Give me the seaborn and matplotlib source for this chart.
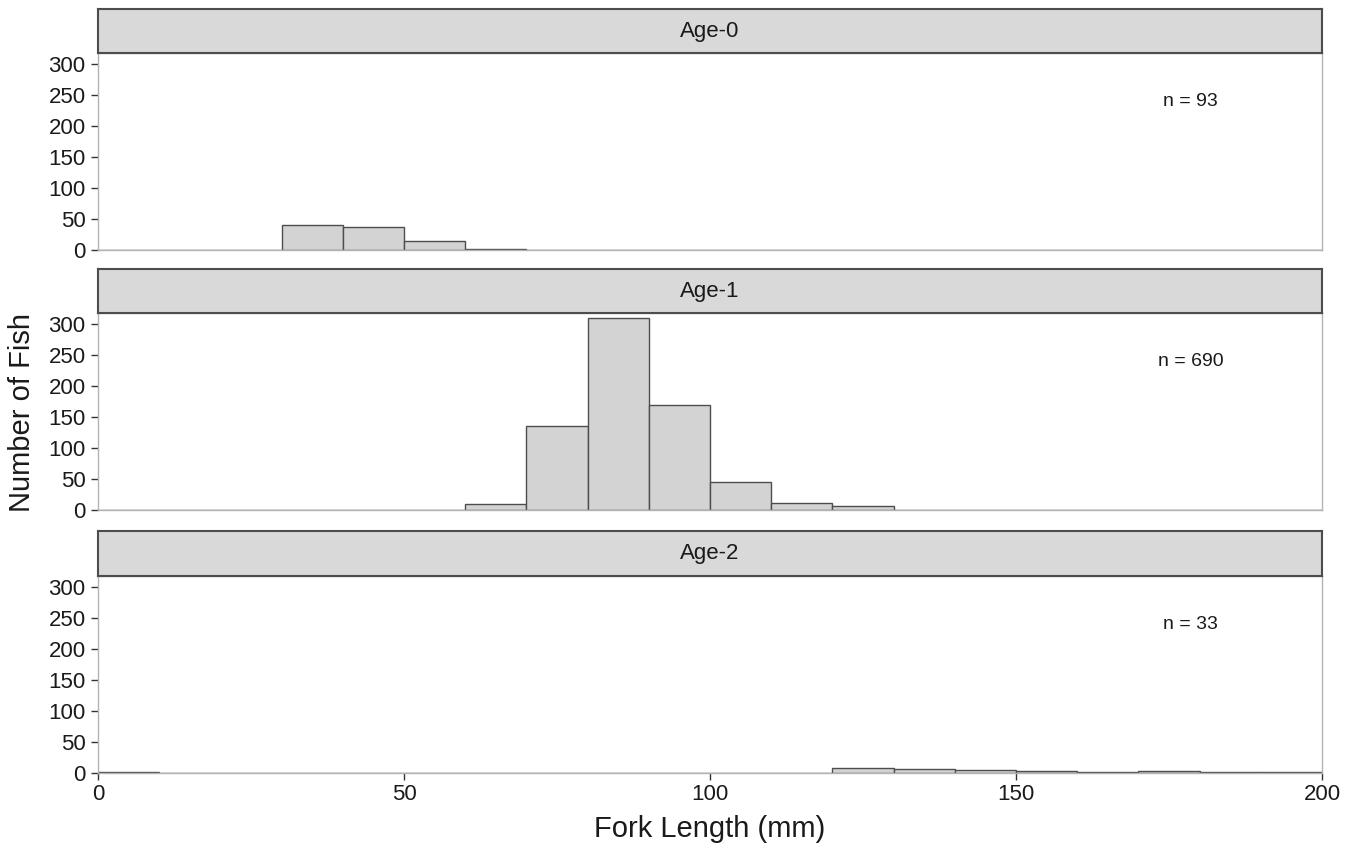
import numpy as np
import pandas as pd
import seaborn as sns
import matplotlib.pyplot as plt

sns.set_style("white")
plt.rcParams['font.family'] = ['Liberation Sans', 'DejaVu Sans']

# histogram counts (10 mm bins)
bin_edges = np.arange(0, 210, 10)
ages = ["Age-0", "Age-1", "Age-2"]
age0_counts = [0, 0, 0, 40, 37, 15, 1, 0, 0, 0, 0, 0, 0, 0, 0, 0, 0, 0, 0, 0]
age1_counts = [0, 0, 0, 0, 0, 0, 9, 136, 310, 170, 46, 12, 7, 0, 0, 0, 0, 0, 0, 0]
age2_counts = [1, 0, 0, 0, 0, 0, 0, 0, 0, 0, 0, 0, 8, 7, 5, 4, 2, 3, 1, 2]
n_labels = ["n = 93", "n = 690", "n = 33"]

centers = bin_edges[:-1] + 5
frames = []
for age, counts in zip(ages, [age0_counts, age1_counts, age2_counts]):
    frames.append(pd.DataFrame({"age": age, "fl": centers, "count": counts}))
df = pd.concat(frames)

fig = plt.figure(figsize=(13.55, 8.46), dpi=100)
W, H = 1355, 846
left, right = 98, 1322
# (strip top, plot top, plot bottom) in pixels
panels = [(9, 53, 250), (269, 313, 510), (531, 576, 773)]

for i, (age, (s_top, p_top, p_bot)) in enumerate(zip(ages, panels)):
    ax = fig.add_axes([left / W, 1 - p_bot / H, (right - left) / W, (p_bot - p_top) / H])
    sub = df[df["age"] == age]
    sns.histplot(data=sub, x="fl", weights="count", binwidth=10, binrange=(0, 200), ax=ax,
                 color="#d3d3d3", edgecolor="#4d4d4d", linewidth=1.0, alpha=1)
    ax.set_xlim(0, 200)
    ax.set_ylim(0, 318)
    ax.set_yticks(range(0, 301, 50))
    ax.set_xticks([0, 50, 100, 150, 200])
    for sp in ax.spines.values():
        sp.set_color("#b3b3b3")
        sp.set_linewidth(1.0)
    ax.tick_params(axis="y", length=5, width=1, color="#333333", labelsize=16,
                   labelcolor="#1a1a1a", left=True, pad=4)
    if i < 2:
        ax.tick_params(axis="x", bottom=False, labelbottom=False)
    else:
        ax.tick_params(axis="x", length=5, width=1, color="#333333", labelsize=16,
                       labelcolor="#1a1a1a", bottom=True, pad=3)
    ax.set_xlabel("")
    ax.set_ylabel("")
    ax.text(178.5, 240, n_labels[i], fontsize=14, color="#1a1a1a", ha="center", va="center")

    sax = fig.add_axes([left / W, 1 - p_top / H, (right - left) / W, (p_top - s_top) / H])
    sax.set_facecolor("#d9d9d9")
    sax.set_xticks([])
    sax.set_yticks([])
    for sp in sax.spines.values():
        sp.set_color("#4d4d4d")
        sp.set_linewidth(1.5)
    sax.text(0.5, 0.5, age, fontsize=16, color="#1a1a1a", ha="center", va="center",
             transform=sax.transAxes)

fig.text(22 / W, 1 - 413 / H, "Number of Fish", rotation=90, fontsize=21,
         ha="center", va="center", color="#1a1a1a")
fig.text((left + right) / 2 / W, 1 - 829 / H, "Fork Length (mm)", fontsize=21,
         ha="center", va="center", color="#1a1a1a")

fig.savefig("out.png", dpi=100)
